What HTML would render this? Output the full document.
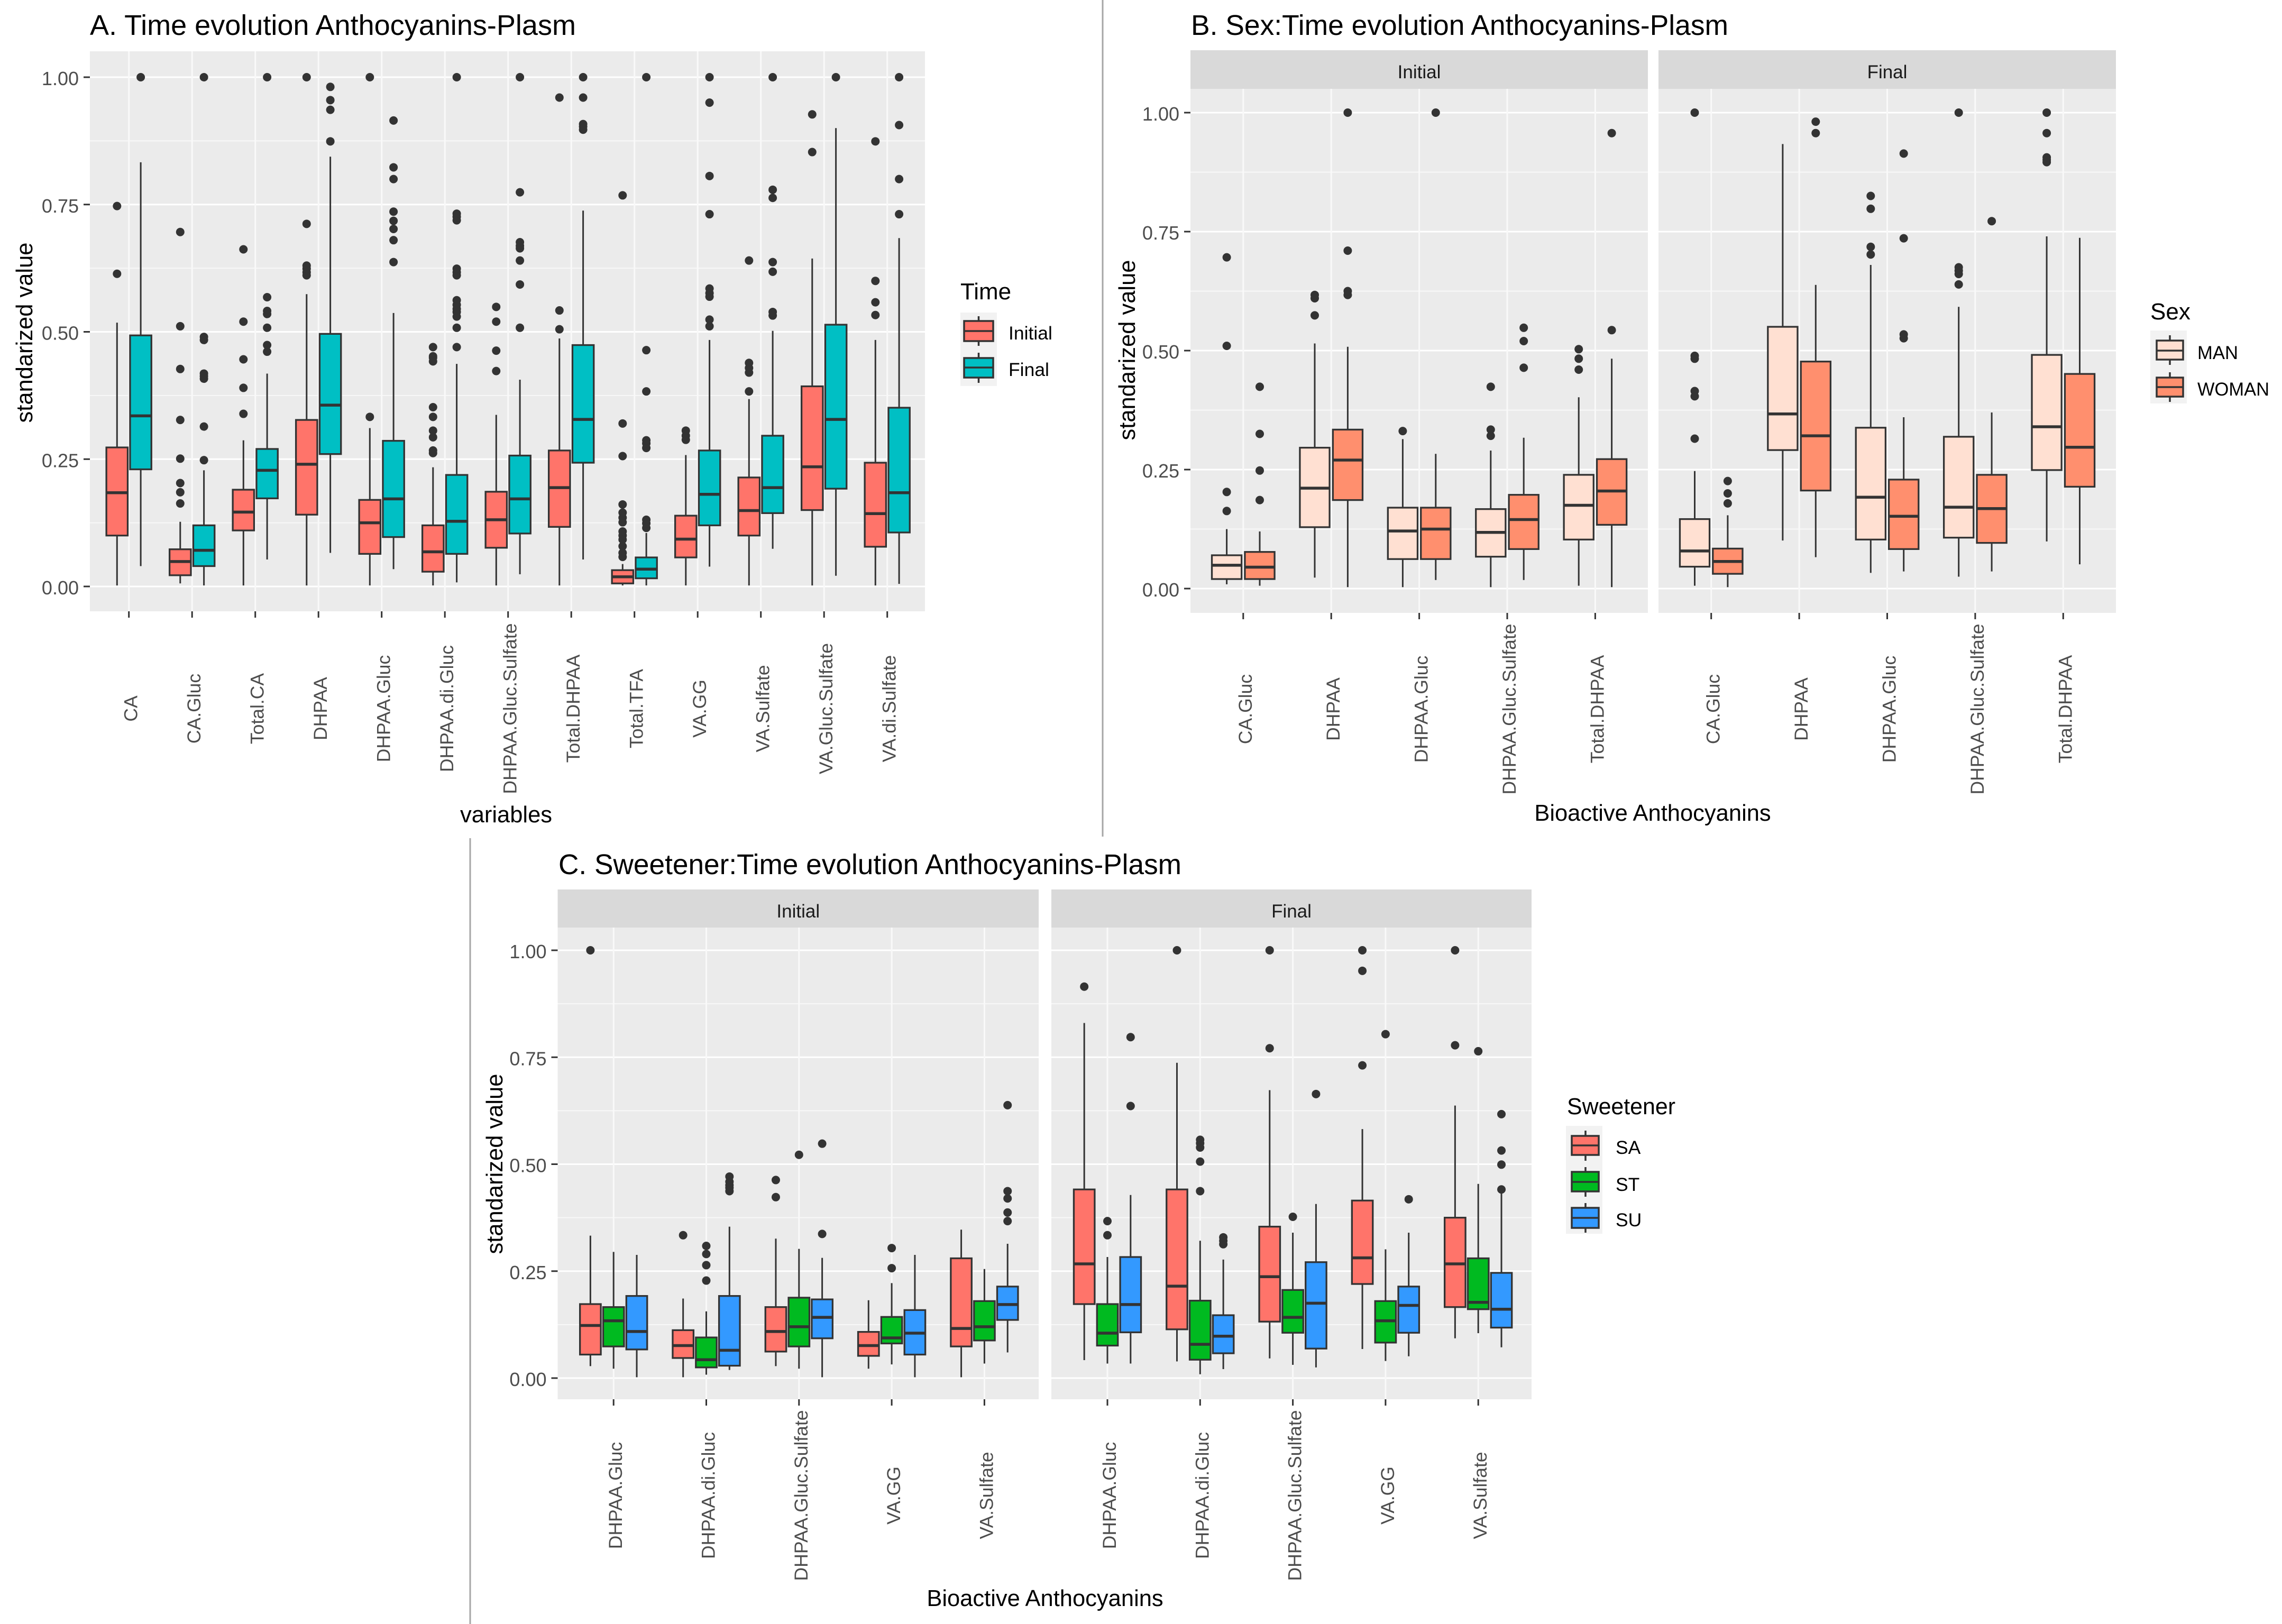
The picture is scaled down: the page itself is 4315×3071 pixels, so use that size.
<!DOCTYPE html>
<html lang="en">
<head>
<meta charset="utf-8">
<title>Time evolution of Anthocyanins in Plasma</title>
<style>
html,body{margin:0;padding:0;background:#fff;}
svg{display:block;font-family:"Liberation Sans",Arial,sans-serif;}
.title{font-size:53.7px;fill:#000;}
.axis-title{font-size:43.5px;fill:#000;}
.legend-title{font-size:44px;fill:#000;}
.legend-label{font-size:35.5px;fill:#000;}
.key-bg{fill:#f2f2f2;}
.key-line{stroke:#333;stroke-width:3.5;fill:none;}
</style>
</head>
<body>
<svg id="figure" xmlns="http://www.w3.org/2000/svg" width="4315" height="3071" viewBox="0 0 4315 3071">
  <rect x="0" y="0" width="4315" height="3071" fill="#ffffff"/>
  <line x1="2085" y1="0" x2="2085" y2="1582" stroke="#a6a6a6" stroke-width="3"/>
  <line x1="889" y1="1585" x2="889" y2="3071" stroke="#a6a6a6" stroke-width="3"/>

  <text class="title" x="170" y="66" textLength="919" lengthAdjust="spacingAndGlyphs">A. Time evolution Anthocyanins-Plasm</text>
  <text class="title" x="2252" y="66" textLength="1016" lengthAdjust="spacingAndGlyphs">B. Sex:Time evolution Anthocyanins-Plasm</text>
  <text class="title" x="1056" y="1653" textLength="1178" lengthAdjust="spacingAndGlyphs">C. Sweetener:Time evolution Anthocyanins-Plasm</text>

  <text class="axis-title" transform="translate(61,629) rotate(-90)" text-anchor="middle">standarized value</text>
  <text class="axis-title" transform="translate(2146,662) rotate(-90)" text-anchor="middle">standarized value</text>
  <text class="axis-title" transform="translate(950,2201) rotate(-90)" text-anchor="middle">standarized value</text>

  <text class="axis-title" x="957" y="1555" text-anchor="middle">variables</text>
  <text class="axis-title" x="3125" y="1552" text-anchor="middle">Bioactive Anthocyanins</text>
  <text class="axis-title" x="1976" y="3037" text-anchor="middle">Bioactive Anthocyanins</text>

  <g id="panels"></g>

  <g>
    <text class="legend-title" x="1816" y="566">Time</text>
    <rect class="key-bg" x="1816" y="591" width="69" height="139"/>
    <g>
      <line class="key-line" x1="1850.5" y1="598" x2="1850.5" y2="654"/>
      <rect class="key-line" x="1823" y="607" width="55" height="38" style="fill:#ff746a"/>
      <line class="key-line" x1="1823" y1="626" x2="1878" y2="626"/>
      <text class="legend-label" x="1907" y="642">Initial</text>
    </g>
    <g>
      <line class="key-line" x1="1850.5" y1="667" x2="1850.5" y2="724"/>
      <rect class="key-line" x="1823" y="677" width="55" height="37" style="fill:#00bfc4"/>
      <line class="key-line" x1="1823" y1="695" x2="1878" y2="695"/>
      <text class="legend-label" x="1907" y="711">Final</text>
    </g>
  </g>

  <g>
    <text class="legend-title" x="4066" y="604">Sex</text>
    <rect class="key-bg" x="4066" y="625" width="69" height="138"/>
    <g>
      <line class="key-line" x1="4103" y1="634" x2="4103" y2="690"/>
      <rect class="key-line" x="4078" y="644" width="50" height="36" style="fill:#ffe0d2"/>
      <line class="key-line" x1="4078" y1="663" x2="4128" y2="663"/>
      <text class="legend-label" x="4155" y="679" textLength="77" lengthAdjust="spacingAndGlyphs">MAN</text>
    </g>
    <g>
      <line class="key-line" x1="4103" y1="704" x2="4103" y2="760"/>
      <rect class="key-line" x="4078" y="714" width="50" height="36" style="fill:#ff8f6e"/>
      <line class="key-line" x1="4078" y1="732" x2="4128" y2="732"/>
      <text class="legend-label" x="4155" y="748" textLength="136" lengthAdjust="spacingAndGlyphs">WOMAN</text>
    </g>
  </g>

  <g>
    <text class="legend-title" x="2963" y="2107" textLength="205" lengthAdjust="spacingAndGlyphs">Sweetener</text>
    <rect class="key-bg" x="2961" y="2129" width="69" height="204"/>
    <g>
      <line class="key-line" x1="2998" y1="2138" x2="2998" y2="2195"/>
      <rect class="key-line" x="2972" y="2148" width="51" height="36" style="fill:#ff746a"/>
      <line class="key-line" x1="2972" y1="2166" x2="3023" y2="2166"/>
      <text class="legend-label" x="3055" y="2182">SA</text>
    </g>
    <g>
      <line class="key-line" x1="2998" y1="2207" x2="2998" y2="2263"/>
      <rect class="key-line" x="2972" y="2216" width="51" height="37" style="fill:#00ba20"/>
      <line class="key-line" x1="2972" y1="2235" x2="3023" y2="2235"/>
      <text class="legend-label" x="3055" y="2252">ST</text>
    </g>
    <g>
      <line class="key-line" x1="2998" y1="2275" x2="2998" y2="2331"/>
      <rect class="key-line" x="2972" y="2284" width="51" height="38" style="fill:#3399ff"/>
      <line class="key-line" x1="2972" y1="2303" x2="3023" y2="2303"/>
      <text class="legend-label" x="3055" y="2319">SU</text>
    </g>
  </g>
</svg>

<script>
// ---------- Shared axis data ----------
const yTickValues = [0, 0.25, 0.5, 0.75, 1];
const yTickLabels = ['0.00', '0.25', '0.50', '0.75', '1.00'];

// ---------- Panel A: categories, then [low whisker, q1, median, q3, high whisker] per category ----------
const panelACategories = ['CA', 'CA.Gluc', 'Total.CA', 'DHPAA', 'DHPAA.Gluc', 'DHPAA.di.Gluc', 'DHPAA.Gluc.Sulfate', 'Total.DHPAA', 'Total.TFA', 'VA.GG', 'VA.Sulfate', 'VA.Gluc.Sulfate', 'VA.di.Sulfate'];
const panelAInitialBoxes = [
  [.002,.10,.184,.273,.518], [.006,.022,.049,.073,.127], [.002,.11,.146,.19,.287], [.002,.141,.24,.327,.574],
  [.002,.064,.125,.17,.311], [.002,.029,.068,.12,.234], [.002,.076,.131,.186,.337], [.002,.117,.194,.267,.487],
  [.002,.006,.019,.032,.044], [.002,.057,.093,.139,.258], [.002,.10,.149,.214,.368], [.002,.15,.235,.393,.644],
  [.002,.078,.143,.243,.484]
];
const panelAInitialOutliers = [
  [.614,.747], [.163,.185,.203,.251,.327,.427,.511,.696], [.339,.39,.446,.52,.662], [.611,.617,.624,.63,.712,1],
  [.333,1], [.262,.267,.293,.306,.333,.352,.442,.449,.452,.47], [.423,.463,.52,.549], [.505,.542,.96],
  [.058,.066,.079,.092,.10,.108,.126,.135,.145,.161,.256,.32,.768], [.288,.296,.306], [.383,.42,.429,.439,.64], [.853,.927],
  [.533,.558,.6,.874]
];
const panelAFinalBoxes = [
  [.04,.23,.335,.493,.833], [.002,.04,.071,.12,.228], [.053,.173,.228,.27,.418], [.066,.26,.356,.496,.844],
  [.034,.097,.172,.286,.537], [.008,.064,.128,.219,.437], [.024,.104,.172,.257,.406], [.053,.243,.328,.474,.738],
  [.002,.016,.034,.057,.105], [.039,.12,.181,.267,.484], [.074,.144,.194,.296,.502], [.021,.192,.328,.514,.9],
  [.005,.106,.184,.351,.684]
];
const panelAFinalOutliers = [
  [1], [.248,.314,.408,.413,.418,.484,.49,1], [.461,.474,.508,.535,.541,.568,1], [.874,.936,.955,.981],
  [.637,.68,.702,.718,.736,.8,.823,.915], [.47,.508,.53,.539,.545,.553,.562,.611,.617,.624,.719,.726,.732,1], [.508,.593,.64,.664,.669,.676,.774,1], [.897,.903,.908,.96,1],
  [.115,.124,.131,.272,.281,.287,.383,.464,1], [.511,.524,.569,.576,.585,.731,.806,.95,1], [.532,.539,.618,.637,.763,.779,1], [1],
  [.731,.8,.906,1]
];

// ---------- Panel B ----------
const panelBCategories = ['CA.Gluc', 'DHPAA', 'DHPAA.Gluc', 'DHPAA.Gluc.Sulfate', 'Total.DHPAA'];
const panelBInitialManBoxes = [[.009,.02,.049,.07,.125], [.023,.129,.211,.296,.515], [.003,.062,.121,.17,.314], [.003,.067,.118,.167,.29], [.006,.103,.175,.239,.402]];
const panelBInitialManOutliers = [[.163,.203,.51,.696], [.574,.61,.617], [.331], [.321,.334,.424], [.46,.483,.503]];
const panelBInitialWomanBoxes = [[.006,.02,.045,.077,.12], [.003,.186,.27,.334,.508], [.018,.062,.125,.17,.283], [.018,.083,.145,.197,.317], [.003,.134,.205,.272,.483]];
const panelBInitialWomanOutliers = [[.186,.248,.325,.424], [.617,.625,.71,1], [1], [.464,.52,.548], [.543,.957]];
const panelBFinalManBoxes = [[.006,.046,.079,.146,.247], [.101,.291,.367,.55,.934], [.033,.103,.192,.338,.68], [.025,.107,.171,.319,.592], [.099,.249,.34,.491,.74]];
const panelBFinalManOutliers = [[.315,.404,.415,.483,.489,1], [], [.702,.718,.798,.825], [.639,.661,.668,.675,1], [.896,.901,.906,.957,1]];
const panelBFinalWomanBoxes = [[.003,.031,.057,.084,.154], [.066,.206,.321,.477,.638], [.036,.083,.152,.229,.36], [.036,.096,.168,.239,.37], [.051,.214,.297,.451,.737]];
const panelBFinalWomanOutliers = [[.179,.2,.226], [.957,.981], [.526,.534,.736,.914], [.772], []];

// ---------- Panel C ----------
const panelCCategories = ['DHPAA.Gluc', 'DHPAA.di.Gluc', 'DHPAA.Gluc.Sulfate', 'VA.GG', 'VA.Sulfate'];
const panelCInitialSaBoxes = [[.028,.055,.123,.173,.333], [.002,.047,.076,.112,.186], [.028,.062,.109,.166,.326], [.022,.052,.076,.108,.182], [.002,.074,.116,.28,.347]];
const panelCInitialSaOutliers = [[1], [.334], [.423,.463], [], []];
const panelCInitialStBoxes = [[.022,.074,.134,.166,.295], [.008,.025,.043,.095,.156], [.022,.074,.12,.188,.302], [.032,.081,.094,.143,.222], [.034,.088,.12,.18,.255]];
const panelCInitialStOutliers = [[], [.228,.264,.29,.309], [.522], [.257,.304], []];
const panelCInitialSuBoxes = [[.002,.067,.109,.192,.288], [.019,.029,.065,.192,.354], [.002,.093,.142,.184,.281], [.002,.055,.105,.159,.288], [.06,.136,.172,.214,.314]];
const panelCInitialSuOutliers = [[], [.437,.445,.451,.459,.471], [.337,.548], [], [.367,.387,.42,.437,.638]];
const panelCFinalSaBoxes = [[.042,.173,.267,.441,.83], [.039,.114,.215,.441,.737], [.046,.132,.237,.354,.673], [.068,.22,.281,.415,.582], [.093,.166,.267,.375,.637]];
const panelCFinalSaOutliers = [[.915], [1], [.771,1], [.731,.952,1], [.778,1]];
const panelCFinalStBoxes = [[.034,.076,.105,.173,.283], [.009,.043,.079,.181,.321], [.031,.106,.142,.206,.34], [.04,.083,.134,.18,.301], [.105,.161,.177,.28,.454]];
const panelCFinalStOutliers = [[.334,.367], [.437,.506,.539,.549,.557], [.377], [.804], [.764]];
const panelCFinalSuBoxes = [[.034,.107,.172,.283,.428], [.021,.058,.098,.147,.277], [.025,.069,.175,.271,.407], [.051,.106,.17,.214,.34], [.072,.118,.161,.246,.44]];
const panelCFinalSuOutliers = [[.636,.797], [.313,.321,.329], [.664], [.418], [.441,.499,.532,.617]];

// ---------- Drawing ----------
const SVG_NS = 'http://www.w3.org/2000/svg';
const INK = '#333333';

function make(tag, parent, attrs, text) {
  const node = document.createElementNS(SVG_NS, tag);
  for (const key in attrs) node.setAttribute(key, attrs[key]);
  if (text !== undefined) node.textContent = text;
  parent.appendChild(node);
  return node;
}

function drawFacet(root, cfg) {
  const yScale = function (v) { return cfg.zeroY - v * (cfg.zeroY - cfg.oneY); };
  const xScale = function (i) { return cfg.firstTick + i * cfg.step; };

  const group = make('g', root, {});
  
  

  if (cfg.strip) {
    const strip = make('rect', group, { x: cfg.left, y: cfg.stripTop, width: cfg.right - cfg.left, height: cfg.top - cfg.stripTop, fill: '#d9d9d9' });
    
    
    const stripText = make('text', group, { x: (cfg.left + cfg.right) / 2, y: cfg.stripTextY, 'text-anchor': 'middle', 'font-size': 35, fill: '#1a1a1a' }, cfg.strip);
    
    
  }

  const bg = make('rect', group, { x: cfg.left, y: cfg.top, width: cfg.right - cfg.left, height: cfg.bottom - cfg.top, fill: '#ebebeb' });
  
  

  // Minor horizontal gridlines sit midway between major ticks
  for (let t = 0; t < yTickValues.length - 1; t++) {
    const py = yScale((yTickValues[t] + yTickValues[t + 1]) / 2);
    const minor = make('line', group, { x1: cfg.left, x2: cfg.right, y1: py, y2: py, stroke: '#f8f8f8', 'stroke-width': 2 });
    
    
  }

  yTickValues.forEach(function (v, t) {
    const py = yScale(v);
    const major = make('line', group, { x1: cfg.left, x2: cfg.right, y1: py, y2: py, stroke: '#fff', 'stroke-width': 3 });
    
    
    if (cfg.showYAxis) {
      const tick = make('line', group, { x1: cfg.left - 12, x2: cfg.left, y1: py, y2: py, stroke: INK, 'stroke-width': 3 });
      
      
      const label = make('text', group, { x: cfg.left - 21, y: py + 15, 'text-anchor': 'end', 'font-size': 36, fill: '#4d4d4d' }, yTickLabels[t]);
      
      
    }
  });

  cfg.categories.forEach(function (cat, i) {
    const px = xScale(i);
    const grid = make('line', group, { x1: px, x2: px, y1: cfg.top, y2: cfg.bottom, stroke: '#f9f9f9', 'stroke-width': 3 });
    
    
    const tick = make('line', group, { x1: px, x2: px, y1: cfg.bottom, y2: cfg.bottom + 12, stroke: INK, 'stroke-width': 3 });
    
    
    const label = make('text', group, { transform: 'translate(' + (px + 16) + ',' + cfg.labelCenterY + ') rotate(-90)', 'text-anchor': 'middle', 'font-size': 35.5, fill: '#4d4d4d' }, cat);
    
    
  });

  const n = cfg.series.length;
  const slot = 0.75 * cfg.step / n;
  const boxWidth = 0.9 * slot;

  cfg.series.forEach(function (series, s) {
    const seriesGroup = make('g', group, {});
    
    
    series.boxes.forEach(function (stat, i) {
      const cx = xScale(i) + (s - (n - 1) / 2) * slot;
      const lowY = yScale(stat[0]);
      const q1Y = yScale(stat[1]);
      const medY = yScale(stat[2]);
      const q3Y = yScale(stat[3]);
      const highY = yScale(stat[4]);

      const upper = make('line', seriesGroup, { x1: cx, x2: cx, y1: q3Y, y2: highY, stroke: INK, 'stroke-width': 3 });
      
      
      const lower = make('line', seriesGroup, { x1: cx, x2: cx, y1: q1Y, y2: lowY, stroke: INK, 'stroke-width': 3 });
      
      
      const box = make('rect', seriesGroup, { x: cx - boxWidth / 2, y: q3Y, width: boxWidth, height: q1Y - q3Y, fill: series.fill, stroke: INK, 'stroke-width': 3.3 });
      
      
      const median = make('line', seriesGroup, { x1: cx - boxWidth / 2, x2: cx + boxWidth / 2, y1: medY, y2: medY, stroke: INK, 'stroke-width': 5.5 });
      
      

      series.outliers[i].forEach(function (v) {
        const dot = make('circle', seriesGroup, { cx: cx, cy: yScale(v), r: 8, fill: INK });
        
        
      });
    });
  });
}

const panelsRoot = document.getElementById('panels');

drawFacet(panelsRoot, {
  name: 'panel-a', left: 170, right: 1749, top: 97, bottom: 1156, oneY: 146, zeroY: 1109,
  firstTick: 243.7, step: 119.5, labelCenterY: 1340, showYAxis: true, categories: panelACategories,
  series: [
    { key: 'initial', fill: '#ff746a', boxes: panelAInitialBoxes, outliers: panelAInitialOutliers },
    { key: 'final', fill: '#00bfc4', boxes: panelAFinalBoxes, outliers: panelAFinalOutliers }
  ]
});

drawFacet(panelsRoot, {
  name: 'panel-b-initial', left: 2251, right: 3116, stripTop: 95, top: 168, bottom: 1159, oneY: 213, zeroY: 1113,
  strip: 'Initial', stripTextY: 148, firstTick: 2350.8, step: 166.4, labelCenterY: 1341, showYAxis: true, categories: panelBCategories,
  series: [
    { key: 'man', fill: '#ffe0d2', boxes: panelBInitialManBoxes, outliers: panelBInitialManOutliers },
    { key: 'woman', fill: '#ff8f6e', boxes: panelBInitialWomanBoxes, outliers: panelBInitialWomanOutliers }
  ]
});

drawFacet(panelsRoot, {
  name: 'panel-b-final', left: 3136, right: 4001, stripTop: 95, top: 168, bottom: 1159, oneY: 213, zeroY: 1113,
  strip: 'Final', stripTextY: 148, firstTick: 3235.7, step: 166.4, labelCenterY: 1341, showYAxis: false, categories: panelBCategories,
  series: [
    { key: 'man', fill: '#ffe0d2', boxes: panelBFinalManBoxes, outliers: panelBFinalManOutliers },
    { key: 'woman', fill: '#ff8f6e', boxes: panelBFinalWomanBoxes, outliers: panelBFinalWomanOutliers }
  ]
});

drawFacet(panelsRoot, {
  name: 'panel-c-initial', left: 1054.5, right: 1964, stripTop: 1682, top: 1754, bottom: 2646, oneY: 1797, zeroY: 2606,
  strip: 'Initial', stripTextY: 1735, firstTick: 1160.2, step: 175.3, labelCenterY: 2828, showYAxis: true, categories: panelCCategories,
  series: [
    { key: 'sa', fill: '#ff746a', boxes: panelCInitialSaBoxes, outliers: panelCInitialSaOutliers },
    { key: 'st', fill: '#00ba20', boxes: panelCInitialStBoxes, outliers: panelCInitialStOutliers },
    { key: 'su', fill: '#3399ff', boxes: panelCInitialSuBoxes, outliers: panelCInitialSuOutliers }
  ]
});

drawFacet(panelsRoot, {
  name: 'panel-c-final', left: 1988, right: 2896, stripTop: 1682, top: 1754, bottom: 2646, oneY: 1797, zeroY: 2606,
  strip: 'Final', stripTextY: 1735, firstTick: 2094, step: 175.3, labelCenterY: 2828, showYAxis: false, categories: panelCCategories,
  series: [
    { key: 'sa', fill: '#ff746a', boxes: panelCFinalSaBoxes, outliers: panelCFinalSaOutliers },
    { key: 'st', fill: '#00ba20', boxes: panelCFinalStBoxes, outliers: panelCFinalStOutliers },
    { key: 'su', fill: '#3399ff', boxes: panelCFinalSuBoxes, outliers: panelCFinalSuOutliers }
  ]
});
</script>
</body>
</html>
